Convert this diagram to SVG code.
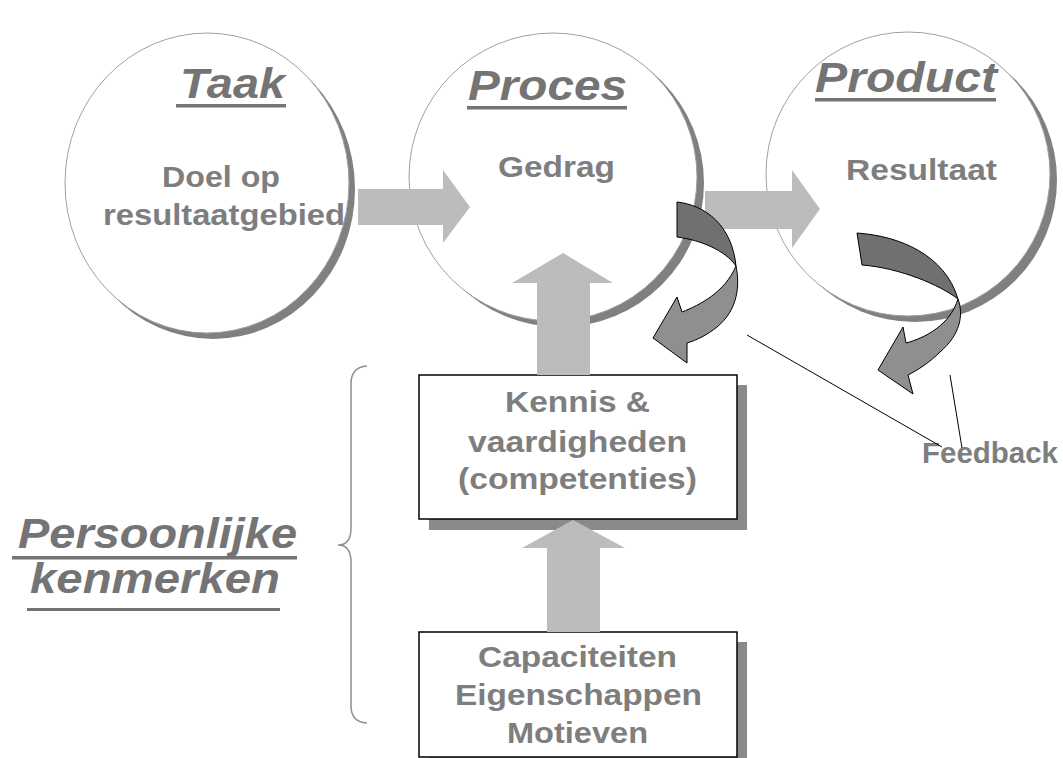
<svg xmlns="http://www.w3.org/2000/svg" width="1063" height="758" viewBox="0 0 1063 758">
<style>
.shadow{fill:#808080}
.disc{fill:#ffffff;stroke:#a0a0a0;stroke-width:1}
text{font-family:"Liberation Sans",Arial,sans-serif;font-weight:bold}
.title{font-style:italic;font-size:42px;fill:#747474}
.sub{font-size:29px;fill:#7e7e7e}
.ul{fill:#747474}
.arrow{fill:#bcbcbc}
.box{fill:#ffffff;stroke:#000000;stroke-width:1.5}
.boxsh{fill:#8a8a8a}
.dark{fill:#707070;stroke:#000000;stroke-width:1}
.light{fill:#8f8f8f;stroke:#000000;stroke-width:1}
.line{stroke:#000000;stroke-width:1;fill:none}
.brace{stroke:#909090;stroke-width:1.5;fill:none}
</style>
<rect width="1063" height="758" fill="#ffffff"/>

<g id="taak">
  <ellipse class="shadow" cx="213" cy="189" rx="142" ry="150"/>
  <ellipse class="disc" cx="207" cy="183" rx="142" ry="150"/>
  <text class="title" x="180" y="98" textLength="105" lengthAdjust="spacingAndGlyphs">Taak</text>
  <rect class="ul" x="176" y="104" width="110" height="3.5"/>
  <text class="sub" x="162" y="187" textLength="118" lengthAdjust="spacingAndGlyphs">Doel op</text>
  <text class="sub" x="103" y="225" textLength="242" lengthAdjust="spacingAndGlyphs">resultaatgebied</text>
</g>

<g id="proces">
  <circle class="shadow" cx="560" cy="183" r="144"/>
  <circle class="disc" cx="553" cy="177" r="144"/>
  <text class="title" x="468" y="100" textLength="159" lengthAdjust="spacingAndGlyphs">Proces</text>
  <rect class="ul" x="467" y="106" width="160" height="3.5"/>
  <text class="sub" x="498" y="177" textLength="117" lengthAdjust="spacingAndGlyphs">Gedrag</text>
</g>

<g id="product">
  <circle class="shadow" cx="915" cy="180" r="142"/>
  <circle class="disc" cx="908" cy="174" r="142"/>
  <text class="title" x="815" y="92" textLength="182" lengthAdjust="spacingAndGlyphs">Product</text>
  <rect class="ul" x="815" y="98" width="181" height="3.5"/>
  <text class="sub" x="846" y="180" textLength="151" lengthAdjust="spacingAndGlyphs">Resultaat</text>
</g>

<g id="kennis">
  <rect class="boxsh" x="429" y="385" width="318" height="145"/>
  <rect class="box" x="419" y="375" width="318" height="144"/>
  <text class="sub" x="505" y="412" textLength="145" lengthAdjust="spacingAndGlyphs">Kennis &amp;</text>
  <text class="sub" x="468" y="452" textLength="219" lengthAdjust="spacingAndGlyphs">vaardigheden</text>
  <text class="sub" x="458" y="489" textLength="239" lengthAdjust="spacingAndGlyphs">(competenties)</text>
</g>

<g id="capaciteiten">
  <rect class="boxsh" x="429" y="642" width="318" height="125"/>
  <rect class="box" x="419" y="632" width="318" height="125"/>
  <text class="sub" x="478" y="667" textLength="199" lengthAdjust="spacingAndGlyphs">Capaciteiten</text>
  <text class="sub" x="455" y="705" textLength="247" lengthAdjust="spacingAndGlyphs">Eigenschappen</text>
  <text class="sub" x="507" y="743" textLength="141" lengthAdjust="spacingAndGlyphs">Motieven</text>
</g>

<g id="persoonlijke">
  <text class="title" x="18" y="548" font-size="38" textLength="279" lengthAdjust="spacingAndGlyphs">Persoonlijke</text>
  <rect class="ul" x="12" y="556" width="285" height="3.5"/>
  <text class="title" x="30" y="593" font-size="38" textLength="250" lengthAdjust="spacingAndGlyphs">kenmerken</text>
  <rect class="ul" x="27" y="608" width="253" height="3"/>
  <path class="brace" d="M367 366 Q351 367 351 384 L351 528 Q351 545 338 545 Q351 545 351 562 L351 706 Q351 722 367 723"/>
</g>

<g id="feedback">
  <text class="sub" x="922" y="463" textLength="136" lengthAdjust="spacingAndGlyphs">Feedback</text>
</g>

<g id="connectors">
  <polygon class="arrow" points="358,189 443,189 443,170 470,207 443,243 443,225 358,225"/>
  <polygon class="arrow" points="705,191 792,191 792,170 820,209 792,248 792,229 705,229"/>
  <polygon class="arrow" points="537,375 537,283 512,283 563,253 613,283 590,283 590,375"/>
  <polygon class="arrow" points="547,632 547,548 522,548 573,520 625,548 600,548 600,632"/>

  <path class="dark" d="M677 202 C705 205 732 225 736 266 C725 250 700 240 677 237 Z"/>
  <path class="light" d="M736 266 C740 285 738 310 717 327 C707 335 697 340 687 343 L687 363 L653 338 L677 297 L682 312 C700 305 725 292 736 266 Z"/>

  <path class="dark" d="M857 233 C900 236 945 255 958 299 C940 285 900 268 862 265 Z"/>
  <path class="light" d="M958 299 C964 315 960 335 940 352 C930 362 918 370 908 375 L913 394 L878 370 L903 327 L906 343 C925 338 950 325 958 299 Z"/>

  <line class="line" x1="747" y1="335" x2="942" y2="447"/>
  <line class="line" x1="950" y1="375" x2="962" y2="448"/>
</g>
</svg>
